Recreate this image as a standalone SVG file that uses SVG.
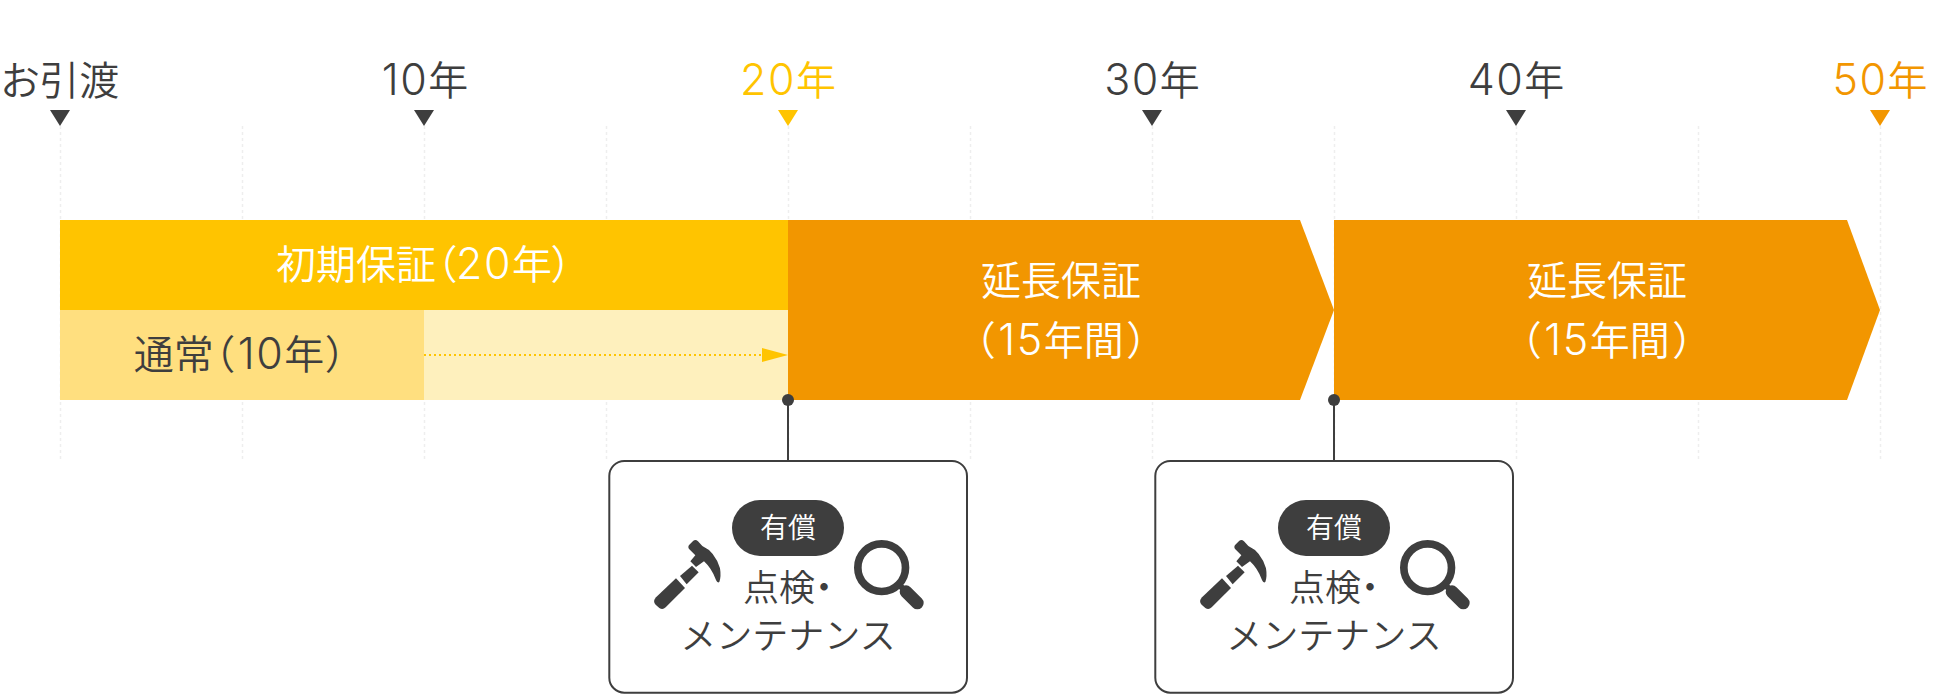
<svg xmlns="http://www.w3.org/2000/svg" width="1960" height="694" viewBox="0 0 1960 694">
<style>
text{font-family:Inter,"Noto Sans CJK JP","Noto Sans",sans-serif;font-weight:350;text-anchor:middle;font-feature-settings:"palt";}
.dk{fill:#3e3e3e}.yl{fill:#ffc400}.or{fill:#f29600}.wh{fill:#fff}
.f40{font-size:40px}.f36{font-size:36px}.f28{font-size:28px}
.np{font-feature-settings:normal}
.num{font-size:43px;letter-spacing:1.500px;font-weight:300}
.par{letter-spacing:4px}
.grid{stroke:#eeeeee;stroke-width:1.5;stroke-dasharray:3 3;fill:none}
.lead{stroke:#3e3e3e;stroke-width:2;fill:none}
.box{fill:#fff;stroke:#3e3e3e;stroke-width:2}
</style>
<defs>
<g id="icons" transform="translate(-188 -166) scale(0.33333)">
<path class="dk" d="M168 472L228 415L255 444L197 502Q188 511 178 504L167 494Q157 484 168 472Z"/>
<path class="dk" d="M240 408L276 377L296 397L260 433Z"/>
<path class="dk" d="M268 314L280 302Q287 297 294 304L307 318Q345 335 360 385Q364 410 358 426Q352 430 348 420Q335 385 312 364L288 381L271 364L286 346L268 328Q262 320 268 314Z"/>
<circle cx="845" cy="383" r="71.500" fill="none" stroke="#3e3e3e" stroke-width="23"/>
<path d="M900 437L925 462" stroke="#3e3e3e" stroke-width="18" fill="none"/>
<path d="M918 455L952 489" stroke="#3e3e3e" stroke-width="38" stroke-linecap="round" fill="none"/>
</g>
</defs>
<g id="grid">
<path class="grid" d="M60.500 126V460M242.500 126V460M424.500 126V460M606.500 126V460M788.500 126V460M970.500 126V460M1152.500 126V460M1334.500 126V460M1516.500 126V460M1698.500 126V460M1880.500 126V460"/>
</g>
<g id="axis">
<g id="tick-0"><text class="dk f40" x="60" y="95">お引渡</text><path class="dk" d="M50 110H70L60 126Z"/></g>
<g id="tick-10"><text class="dk f40" x="425" y="95"><tspan class="num">10</tspan>年</text><path class="dk" d="M414 110H434L424 126Z"/></g>
<g id="tick-20"><text class="yl f40" x="788" y="95"><tspan class="num">20</tspan>年</text><path class="yl" d="M778 110H798L788 126Z"/></g>
<g id="tick-30"><text class="dk f40" x="1152" y="95"><tspan class="num">30</tspan>年</text><path class="dk" d="M1142 110H1162L1152 126Z"/></g>
<g id="tick-40"><text class="dk f40" x="1516" y="95"><tspan class="num">40</tspan>年</text><path class="dk" d="M1506 110H1526L1516 126Z"/></g>
<g id="tick-50"><text class="or f40" x="1880" y="95"><tspan class="num">50</tspan>年</text><path class="or" d="M1870 110H1890L1880 126Z"/></g>
</g>
<g id="bar-initial"><rect class="yl" x="60" y="220" width="728" height="90"/><text class="wh f40" x="424" y="279">初期保証（<tspan class="num">20</tspan>年）</text></g>
<g id="bar-normal-ext"><rect fill="#fef0bd" x="424" y="310" width="364" height="90"/></g>
<g id="bar-normal"><rect fill="#ffdf7f" x="60" y="310" width="364" height="90"/><text class="dk f40" x="240" y="369">通常<tspan class="par">（</tspan><tspan class="num">10</tspan>年<tspan dx="2">）</tspan></text></g>
<g id="bar-ext1"><path class="or" d="M788 220H1300L1334 310L1300 400H788Z"/><text class="wh f40" x="1061" y="295">延長保証</text><text class="wh f40" x="1061" y="355"><tspan class="par">（</tspan><tspan class="num">15</tspan>年間<tspan dx="4">）</tspan></text></g>
<g id="bar-ext2"><path class="or" d="M1334 220H1847L1880 310L1847 400H1334Z"/><text class="wh f40" x="1607" y="295">延長保証</text><text class="wh f40" x="1607" y="355"><tspan class="par">（</tspan><tspan class="num">15</tspan>年間<tspan dx="4">）</tspan></text></g>
<g id="connectors">
<path d="M424 355H762" stroke="#ffc400" stroke-width="2" stroke-dasharray="2 3" fill="none"/>
<path class="yl" d="M762 348L788 355L762 362Z"/>
<path class="lead" d="M788 400V461M1334 400V461"/>
<circle class="dk" cx="788" cy="400" r="6"/><circle class="dk" cx="1334" cy="400" r="6"/>
</g>
<g id="node-maint1" transform="translate(788 0)">
<rect class="box" x="-178.700" y="461" width="357.700" height="231.700" rx="15"/>
<rect class="dk" x="-56" y="500" width="112" height="56" rx="28"/>
<text class="wh f28" x="0" y="538">有償</text>
<text class="dk f36" x="0" y="601">点検・</text>
<text class="dk f36 np" x="0" y="649">メンテナンス</text>
<g transform="translate(0 606)"><use href="#icons"/></g>
</g>
<g id="node-maint2" transform="translate(1334 0)">
<rect class="box" x="-178.700" y="461" width="357.700" height="231.700" rx="15"/>
<rect class="dk" x="-56" y="500" width="112" height="56" rx="28"/>
<text class="wh f28" x="0" y="538">有償</text>
<text class="dk f36" x="0" y="601">点検・</text>
<text class="dk f36 np" x="0" y="649">メンテナンス</text>
<g transform="translate(0 606)"><use href="#icons"/></g>
</g>
</svg>
